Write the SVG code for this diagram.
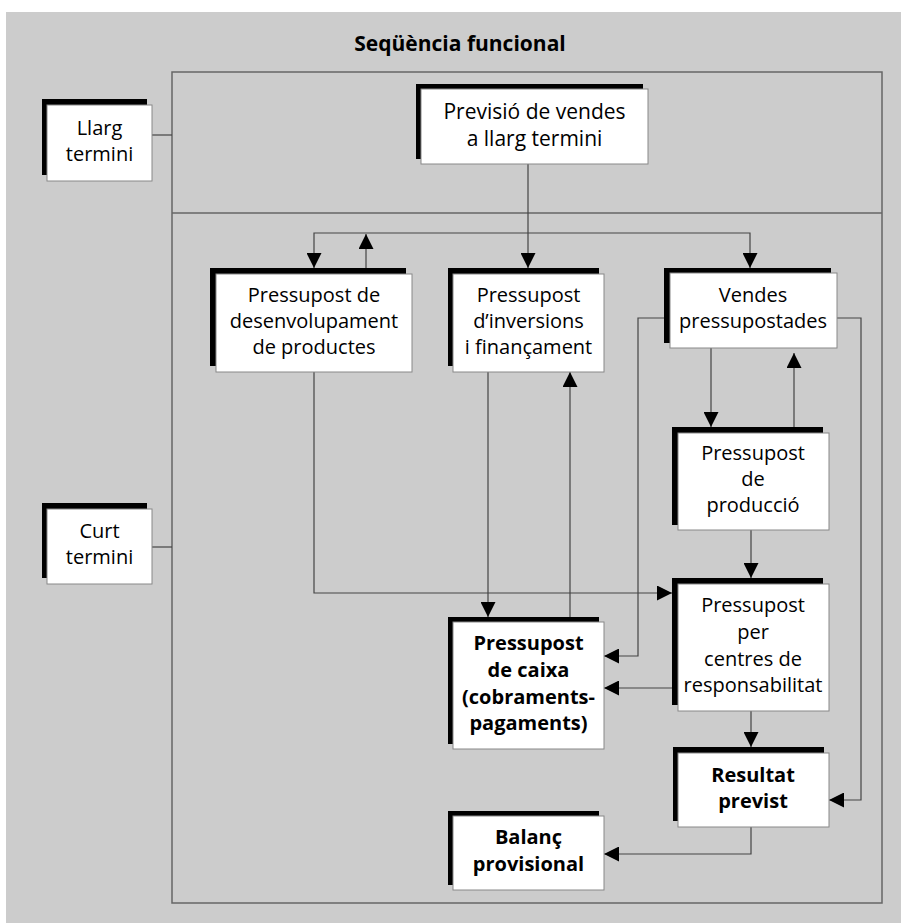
<svg xmlns="http://www.w3.org/2000/svg" width="901" height="923" viewBox="0 0 901 923">
<style>
.bg{fill:#cccccc}
.frame{fill:none;stroke:#666;stroke-width:1.5}
.sh{fill:#000}
.bx{fill:#fff;stroke:#888;stroke-width:1}
.t{font-family:"Open Sans","Noto Sans","Liberation Sans",sans-serif;font-size:20px;fill:#000;text-anchor:middle}
.b{font-weight:bold}
.l{font-size:21px}
.c{fill:none;stroke:#444;stroke-width:1.2}
.title{font-family:"Open Sans","Noto Sans","Liberation Sans",sans-serif;font-size:21px;font-weight:bold;fill:#000;text-anchor:middle}
</style>
<defs>
<marker id="ah" viewBox="0 0 15 15" refX="15" refY="7.5" markerWidth="15" markerHeight="15" markerUnits="userSpaceOnUse" orient="auto">
<path d="M0,0 L15,7.5 L0,15 Z" fill="#000"/>
</marker>
</defs>
<rect class="bg" x="6" y="12" width="895" height="911"/>
<text class="title" x="460" y="51">Seqüència funcional</text>
<rect class="frame" x="172" y="72" width="710" height="831"/>
<line class="frame" x1="172" y1="213" x2="882" y2="213"/>

<g id="connectors">
<path class="c" d="M152,135 H172"/>
<path class="c" d="M152,547 H172"/>
<path class="c" d="M528,164 V268" marker-end="url(#ah)"/>
<path class="c" d="M528,233 H314 V268" marker-end="url(#ah)"/>
<path class="c" d="M528,233 H750 V268" marker-end="url(#ah)"/>
<path class="c" d="M366,268 V234" marker-end="url(#ah)"/>
<path class="c" d="M314,372 V593 H672" marker-end="url(#ah)"/>
<path class="c" d="M488,372 V617" marker-end="url(#ah)"/>
<path class="c" d="M570,617 V372" marker-end="url(#ah)"/>
<path class="c" d="M670,318 H638 V656 H604" marker-end="url(#ah)"/>
<path class="c" d="M837,318 H861 V800 H829" marker-end="url(#ah)"/>
<path class="c" d="M711,348 V427" marker-end="url(#ah)"/>
<path class="c" d="M794,427 V353" marker-end="url(#ah)"/>
<path class="c" d="M751,530 V578" marker-end="url(#ah)"/>
<path class="c" d="M672,688 H604" marker-end="url(#ah)"/>
<path class="c" d="M751,711 V747" marker-end="url(#ah)"/>
<path class="c" d="M751,827 V854 H604" marker-end="url(#ah)"/>
</g>

<g id="llarg">
<rect class="sh" x="42" y="99" width="105" height="76"/>
<rect class="bx" x="47" y="105" width="105" height="76"/>
<text class="t" x="99.5" y="135">Llarg</text>
<text class="t" x="99.5" y="161">termini</text>
</g>
<g id="curt">
<rect class="sh" x="42" y="503" width="105" height="75"/>
<rect class="bx" x="47" y="509" width="105" height="75"/>
<text class="t" x="99.5" y="538">Curt</text>
<text class="t" x="99.5" y="564">termini</text>
</g>
<g id="previsio">
<rect class="sh" x="416" y="84" width="227" height="75"/>
<rect class="bx" x="421" y="89" width="227" height="75"/>
<text class="t l" x="534.5" y="119">Previsió de vendes</text>
<text class="t l" x="534.5" y="146">a llarg termini</text>
</g>
<g id="desenvolupament">
<rect class="sh" x="210" y="268" width="196" height="98"/>
<rect class="bx" x="216" y="274" width="196" height="98"/>
<text class="t" x="314" y="302">Pressupost de</text>
<text class="t" x="314" y="328">desenvolupament</text>
<text class="t" x="314" y="354">de productes</text>
</g>
<g id="inversions">
<rect class="sh" x="448" y="268" width="151" height="98"/>
<rect class="bx" x="453" y="274" width="151" height="98"/>
<text class="t" x="528.5" y="302">Pressupost</text>
<text class="t" x="528.5" y="328">d’inversions</text>
<text class="t" x="528.5" y="354">i finançament</text>
</g>
<g id="vendes">
<rect class="sh" x="664" y="268" width="167" height="75"/>
<rect class="bx" x="670" y="273" width="167" height="75"/>
<text class="t" x="753" y="302">Vendes</text>
<text class="t" x="753" y="328">pressupostades</text>
</g>
<g id="produccio">
<rect class="sh" x="672" y="427" width="151" height="98"/>
<rect class="bx" x="678" y="433" width="151" height="97"/>
<text class="t" x="753" y="460">Pressupost</text>
<text class="t" x="753" y="486">de</text>
<text class="t" x="753" y="512">producció</text>
</g>
<g id="responsabilitat">
<rect class="sh" x="672" y="578" width="151" height="127"/>
<rect class="bx" x="678" y="584" width="151" height="127"/>
<text class="t" x="753" y="612">Pressupost</text>
<text class="t" x="753" y="639">per</text>
<text class="t" x="753" y="666">centres de</text>
<text class="t" x="753" y="692">responsabilitat</text>
</g>
<g id="caixa">
<rect class="sh" x="448" y="617" width="151" height="127"/>
<rect class="bx" x="453" y="622" width="151" height="127"/>
<text class="t b" x="528.5" y="650">Pressupost</text>
<text class="t b" x="528.5" y="677">de caixa</text>
<text class="t b" x="528.5" y="704">(cobraments-</text>
<text class="t b" x="528.5" y="730">pagaments)</text>
</g>
<g id="resultat">
<rect class="sh" x="673" y="747" width="151" height="74"/>
<rect class="bx" x="678" y="753" width="151" height="74"/>
<text class="t b" x="753" y="782">Resultat</text>
<text class="t b" x="753" y="808">previst</text>
</g>
<g id="balanc">
<rect class="sh" x="448" y="811" width="151" height="74"/>
<rect class="bx" x="453" y="816" width="151" height="74"/>
<text class="t b" x="528.5" y="844">Balanç</text>
<text class="t b" x="528.5" y="871">provisional</text>
</g>
</svg>
